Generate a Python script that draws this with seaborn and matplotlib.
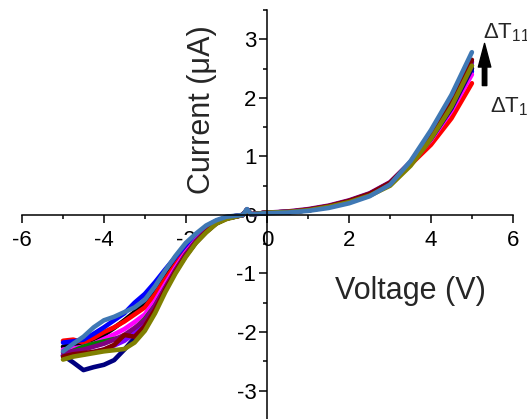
import pandas as pd
import matplotlib
matplotlib.use('Agg')
import matplotlib.pyplot as plt
import seaborn as sns
from matplotlib.ticker import MultipleLocator

# voltage grid (V)
voltage = [-5, -4.75, -4.5, -4.25, -4, -3.75, -3.5, -3.25, -3, -2.75,
           -2.5, -2.25, -2, -1.75, -1.5, -1.25, -1, -0.6, -0.5, -0.4,
           0, 0.5, 1, 1.5, 2, 2.5, 3, 3.5, 4, 4.5, 5]

# current (uA) for dT1 ... dT11
i_black = [-2.25, -2.22, -2.2, -2.12, -2.05, -1.93, -1.8, -1.66, -1.5, -1.28,
           -1.02, -0.78, -0.56, -0.38, -0.22, -0.11, -0.04, 0.0, 0.09, 0.01,
           0.04, 0.05, 0.08, 0.14, 0.22, 0.34, 0.53, 0.88, 1.3, 1.82, 2.5]
i_red = [-2.15, -2.13, -2.18, -2.1, -2.0, -1.92, -1.82, -1.7, -1.58, -1.36,
         -1.1, -0.85, -0.6, -0.4, -0.24, -0.12, -0.05, 0.0, 0.09, 0.01,
         0.04, 0.05, 0.08, 0.14, 0.22, 0.34, 0.52, 0.86, 1.2, 1.65, 2.25]
i_blue = [-2.18, -2.16, -2.13, -2.03, -1.92, -1.8, -1.68, -1.5, -1.35, -1.15,
          -0.93, -0.72, -0.52, -0.35, -0.2, -0.1, -0.04, 0.0, 0.09, 0.01,
          0.04, 0.05, 0.08, 0.14, 0.22, 0.34, 0.53, 0.88, 1.3, 1.8, 2.45]
i_magenta = [-2.3, -2.28, -2.25, -2.2, -2.12, -2.04, -1.95, -1.83, -1.7, -1.47,
             -1.18, -0.9, -0.64, -0.43, -0.26, -0.13, -0.05, 0.0, 0.09, 0.01,
             0.04, 0.05, 0.09, 0.15, 0.24, 0.36, 0.55, 0.9, 1.28, 1.78, 2.4]
i_green = [-2.4, -2.32, -2.25, -2.2, -2.16, -2.12, -2.08, -1.95, -1.78, -1.55,
           -1.25, -0.95, -0.68, -0.45, -0.28, -0.14, -0.06, 0.0, 0.09, 0.01,
           0.04, 0.05, 0.08, 0.14, 0.22, 0.34, 0.53, 0.88, 1.33, 1.88, 2.55]
i_navy = [-2.4, -2.52, -2.65, -2.6, -2.56, -2.48, -2.3, -2.1, -1.85, -1.6,
          -1.28, -0.97, -0.7, -0.47, -0.29, -0.14, -0.06, 0.0, 0.09, 0.01,
          0.04, 0.05, 0.08, 0.14, 0.22, 0.34, 0.53, 0.88, 1.3, 1.82, 2.5]
i_violet = [-2.4, -2.39, -2.38, -2.34, -2.3, -2.23, -2.15, -2.02, -1.88, -1.6,
            -1.27, -0.96, -0.69, -0.46, -0.28, -0.14, -0.06, 0.0, 0.09, 0.01,
            0.04, 0.05, 0.09, 0.15, 0.24, 0.36, 0.55, 0.9, 1.35, 1.9, 2.6]
i_purple = [-2.35, -2.33, -2.3, -2.25, -2.2, -2.13, -2.05, -1.93, -1.8, -1.55,
            -1.24, -0.94, -0.67, -0.45, -0.27, -0.14, -0.06, 0.0, 0.09, 0.01,
            0.04, 0.06, 0.1, 0.16, 0.25, 0.37, 0.56, 0.9, 1.38, 1.92, 2.62]
i_wine = [-2.42, -2.38, -2.36, -2.34, -2.3, -2.22, -2.05, -2.08, -1.9, -1.62,
          -1.28, -0.97, -0.7, -0.47, -0.29, -0.14, -0.06, 0.0, 0.09, 0.01,
          0.04, 0.05, 0.09, 0.15, 0.24, 0.36, 0.55, 0.9, 1.4, 1.95, 2.65]
i_olive = [-2.47, -2.42, -2.39, -2.36, -2.33, -2.31, -2.29, -2.18, -1.98, -1.68,
           -1.32, -1.0, -0.72, -0.48, -0.3, -0.15, -0.07, 0.0, 0.09, 0.01,
           0.04, 0.05, 0.08, 0.14, 0.22, 0.33, 0.5, 0.84, 1.3, 1.85, 2.55]
i_steel = [-2.33, -2.2, -2.08, -1.92, -1.8, -1.74, -1.66, -1.58, -1.45, -1.22,
           -0.95, -0.7, -0.48, -0.32, -0.18, -0.09, -0.03, 0.0, 0.1, 0.01,
           0.03, 0.04, 0.07, 0.12, 0.2, 0.32, 0.52, 0.92, 1.45, 2.05, 2.78]

curves = ['dT1', 'dT2', 'dT3', 'dT4', 'dT5', 'dT6', 'dT7', 'dT8', 'dT9', 'dT10', 'dT11']
currents = [i_black, i_red, i_blue, i_magenta, i_green, i_navy,
            i_violet, i_purple, i_wine, i_olive, i_steel]
colors = ['#000000', '#FF0000', '#0000FF', '#FF00FF', '#008000', '#000080',
          '#8000FF', '#800080', '#800000', '#808000', '#3F78B4']

rows = []
for name, cur in zip(curves, currents):
    for v, c in zip(voltage, cur):
        rows.append({'V': v, 'I': c, 'curve': name})
df = pd.DataFrame(rows)

sns.set_theme(style='white')
plt.rcParams['font.family'] = ['Liberation Sans', 'DejaVu Sans']
plt.rcParams['axes.unicode_minus'] = False
plt.rcParams['mathtext.fontset'] = 'custom'
plt.rcParams['mathtext.rm'] = 'Liberation Sans'

fig = plt.figure(figsize=(5.27, 4.19), dpi=100)
ax = fig.add_axes([0.042, -0.002, 0.931, 0.978])

sns.lineplot(data=df, x='V', y='I', hue='curve', palette=colors, lw=3.3,
             sort=False, estimator=None, legend=False, ax=ax)

ax.set_xlim(-6, 6)
ax.set_ylim(-3.5, 3.5)
for s in ['top', 'right']:
    ax.spines[s].set_visible(False)
ax.spines['left'].set_position(('data', 0))
ax.spines['bottom'].set_position(('data', 0))
for s in ['left', 'bottom']:
    ax.spines[s].set_color('black')
    ax.spines[s].set_linewidth(1.1)
ax.xaxis.set_major_locator(MultipleLocator(2))
ax.xaxis.set_minor_locator(MultipleLocator(1))
ax.yaxis.set_major_locator(MultipleLocator(1))
ax.yaxis.set_minor_locator(MultipleLocator(0.5))
ax.set_yticks([-3, -2, -1, 0, 1, 2, 3])
ax.tick_params(which='both', direction='out', color='black', width=1.1,
               labelsize=16, labelcolor='black', bottom=True, left=True)
ax.tick_params(which='major', length=6)
ax.tick_params(which='minor', length=3)
ax.tick_params(axis='x', which='major', pad=5)
ax.tick_params(axis='y', which='major', pad=2)
ax.set_xlabel('')
ax.set_ylabel('')

ax.text(-1.6, 1.8, 'Current (μA)', rotation=90, fontsize=22,
        ha='center', va='center')
ax.text(3.5, -1.3, 'Voltage (V)', fontsize=22, ha='center', va='center')

ax.text(5.27, 3.02, r'ΔT$_{11}$', fontsize=16, ha='left', va='baseline')
ax.text(5.45, 1.75, r'ΔT$_{1}$', fontsize=16, ha='left', va='baseline')
ax.annotate('', xy=(5.31, 2.93), xytext=(5.31, 2.21),
            arrowprops=dict(facecolor='black', edgecolor='black', width=3.2,
                            headwidth=9, headlength=17, shrink=0))

fig.savefig('out.png', dpi=100)
